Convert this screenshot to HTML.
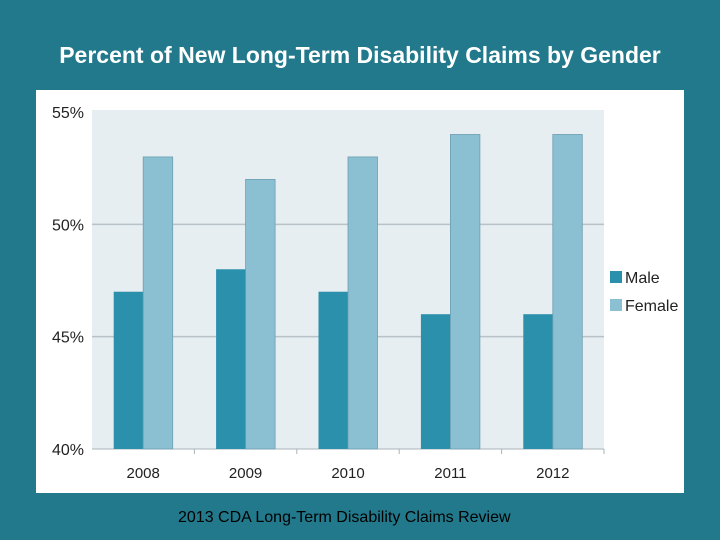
<!DOCTYPE html>
<html><head><meta charset="utf-8"><style>
body{margin:0;width:720px;height:540px;background:#22798b;overflow:hidden;font-family:"Liberation Sans",sans-serif}
#title{position:absolute;left:0;top:42px;width:720px;text-align:center;color:#fff;font-size:23px;font-weight:bold}
#foot{position:absolute;left:178px;top:509px;font-size:16px;color:#000}
svg{position:absolute;left:0;top:0}
</style></head><body>
<div id="title">Percent of New Long-Term Disability Claims by Gender</div>
<svg width="720" height="540" id="chart">
<rect x="36" y="90" width="648" height="403" fill="#fff"/>
<rect x="92" y="110" width="512" height="339" fill="#e6eef2"/>
<g id="g"></g>
</svg>
<div id="foot">2013 CDA Long-Term Disability Claims Review</div>
<script>
const categories=["2008","2009","2010","2011","2012"];
const male=[47,48,47,46,46];
const female=[53,52,53,54,54];
const yTicks=[40,45,50,55];
const yTickLabels=["40%","45%","50%","55%"];
const ns="http://www.w3.org/2000/svg",g=document.getElementById('g');
const X0=92,X1=604,Y0=449,Y1=112,ymin=40,ymax=55;
const y=v=>Y0-(v-ymin)/(ymax-ymin)*(Y0-Y1);
const step=(X1-X0)/categories.length;
const cx=i=>X0+step*(i+0.5);
function mk(t,a){const e=document.createElementNS(ns,t);for(const k in a)e.setAttribute(k,a[k]);g.appendChild(e);return e;}
yTicks.forEach((v,i)=>{
 if(v>ymin&&v<ymax){const l=mk('line',{x1:X0,x2:X1,y1:y(v),y2:y(v),stroke:'#b7c3c8','stroke-width':1.5});
 
 }
 const t=mk('text',{x:84,y:y(v)+6,'text-anchor':'end','font-size':16,fill:'#222'});t.textContent=yTickLabels[i];
 
 
});
const ax=mk('line',{x1:X0,x2:X1,y1:Y0,y2:Y0,stroke:'#aab4b8','stroke-width':1});


const bw=29.5;
categories.forEach((c,i)=>{
 const m=mk('rect',{x:cx(i)-bw,y:y(male[i]),width:bw,height:Y0-y(male[i]),fill:'#2a90ac'});
 
 
 const f=mk('rect',{x:cx(i),y:y(female[i]),width:bw,height:Y0-y(female[i]),fill:'#8bbfd2',stroke:'#6d9fb2','stroke-width':0.8});
 
 
 const tk=mk('line',{x1:X0+step*(i+1),x2:X0+step*(i+1),y1:Y0,y2:Y0+5,stroke:'#aab4b8'});
 
 
 const t=mk('text',{x:cx(i),y:478,'text-anchor':'middle','font-size':15,fill:'#222'});t.textContent=c;
 
 
});
[["Male","#2a90ac",278],["Female","#8bbfd2",306]].forEach(([n,col,yy])=>{
 const r=mk('rect',{x:610,y:yy-7,width:12,height:12,fill:col});
 
 
 const t=mk('text',{x:625,y:yy+5,'font-size':16,fill:'#222'});t.textContent=n;
 
 
});
</script>
</body></html>
